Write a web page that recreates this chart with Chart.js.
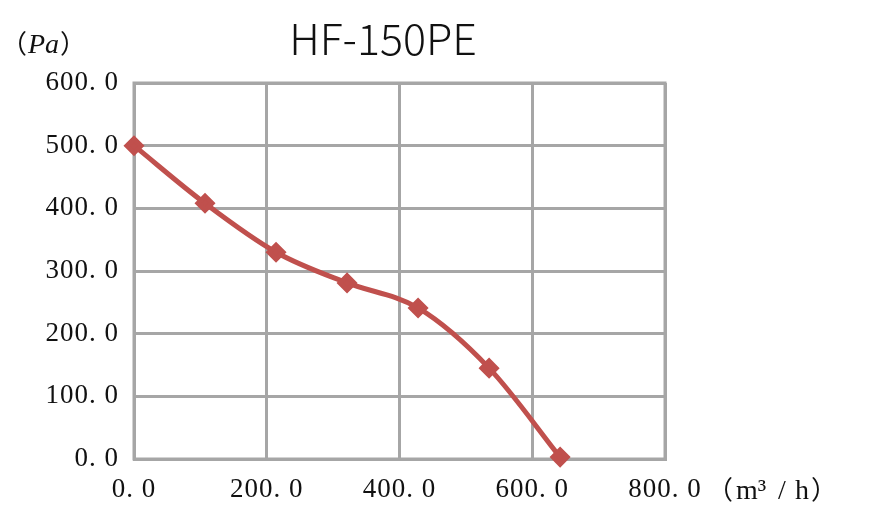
<!DOCTYPE html>
<html><head><meta charset="utf-8">
<script src="https://cdn.jsdelivr.net/npm/chart.js@4/dist/chart.umd.min.js"></script>
<style>html,body{margin:0;padding:0;background:#fff;}#wrap{width:877px;height:522px;position:relative;}</style>
</head><body><div id="wrap"><canvas id="c" width="877" height="522"></canvas></div>
<script>
const chartTitle = "HF-150PE";
const yUnit = "Pa";
const xUnitParts = ["（", "m³", "/", "h", "）"];
const airflow = [0, 107, 214, 321, 428, 535, 642];
const pressure = [500, 408, 330, 281, 241, 145, 3];
const xTicks = [0, 200, 400, 600, 800];
const yTicks = [0, 100, 200, 300, 400, 500, 600];
const fmt = v => v.toFixed(1).replace('.', '. ');

const labelFont = "'Liberation Serif', 'DejaVu Serif', serif";
const cjkFont = "'Noto Sans CJK SC', sans-serif";

const spacing = {
  id: 'spacing',
  beforeDraw(chart) { chart.ctx.letterSpacing = '1px'; },
  afterDraw(chart) { chart.ctx.letterSpacing = '0px'; }
};

const extras = {
  id: 'extras',
  afterDraw(chart) {
    const ctx = chart.ctx;
    ctx.save();
    ctx.letterSpacing = '0px';
    ctx.fillStyle = '#111';
    ctx.font = "300 43px " + cjkFont;
    ctx.textAlign = 'center';
    ctx.textBaseline = 'alphabetic';
    ctx.fillText(chartTitle, 383, 55);
    // y unit
    ctx.textAlign = 'left';
    ctx.font = "26px " + cjkFont;
    ctx.fillText('（', 1, 53);
    ctx.font = "italic 28px " + labelFont;
    ctx.fillText(yUnit, 28, 53);
    ctx.font = "26px " + cjkFont;
    ctx.fillText('）', 60, 53);
    // x unit
    ctx.font = "26px " + cjkFont;
    ctx.fillText(xUnitParts[0], 707, 499);
    ctx.font = "28px " + labelFont;
    ctx.fillText(xUnitParts[1], 736, 499);
    ctx.fillText(xUnitParts[2], 778, 499);
    ctx.fillText(xUnitParts[3], 795, 499);
    ctx.font = "26px " + cjkFont;
    ctx.fillText(xUnitParts[4], 811, 499);
    ctx.restore();
  }
};

new Chart(document.getElementById('c'), {
  type: 'scatter',
  data: {
    datasets: [{
      data: airflow.map((x, i) => ({x, y: pressure[i]})),
      showLine: true,
      borderColor: '#c0504d',
      backgroundColor: '#c0504d',
      borderWidth: 5,
      tension: 0.35,
      cubicInterpolationMode: 'monotone',
      pointStyle: 'rectRot',
      pointRadius: 7,
      pointHoverRadius: 7,
      clip: false
    }]
  },
  options: {
    responsive: false,
    animation: false,
    events: [],
    layout: { padding: { top: 83, right: 212, left: 0, bottom: 0 } },
    plugins: { legend: { display: false }, tooltip: { enabled: false }, title: { display: false } },
    scales: {
      x: {
        type: 'linear', min: 0, max: 800,
        afterBuildTicks: s => { s.ticks = xTicks.map(v => ({value: v})); },
        afterFit: s => { s.height = 63; },
        grid: { color: '#a6a6a6', lineWidth: 3, drawTicks: false },
        border: { color: '#a6a6a6', width: 3 },
        ticks: { padding: 15, color: '#111', font: { family: labelFont, size: 27 }, callback: v => fmt(v), maxRotation: 0 }
      },
      y: {
        type: 'linear', min: 0, max: 600,
        afterBuildTicks: s => { s.ticks = yTicks.map(v => ({value: v})); },
        afterFit: s => { s.width = 134; },
        grid: { color: '#a6a6a6', lineWidth: 3, drawTicks: false },
        border: { color: '#a6a6a6', width: 3 },
        ticks: { padding: 15, color: '#111', font: { family: labelFont, size: 27 }, callback: v => fmt(v) }
      }
    }
  },
  plugins: [spacing, extras, {
    id: 'frame',
    beforeDatasetsDraw(chart) {
      const {ctx, chartArea: a} = chart;
      ctx.save();
      ctx.strokeStyle = '#a6a6a6';
      ctx.lineWidth = 3;
      ctx.strokeRect(a.left, a.top, a.right - a.left, a.bottom - a.top);
      ctx.restore();
    }
  }]
});
</script></body></html>
